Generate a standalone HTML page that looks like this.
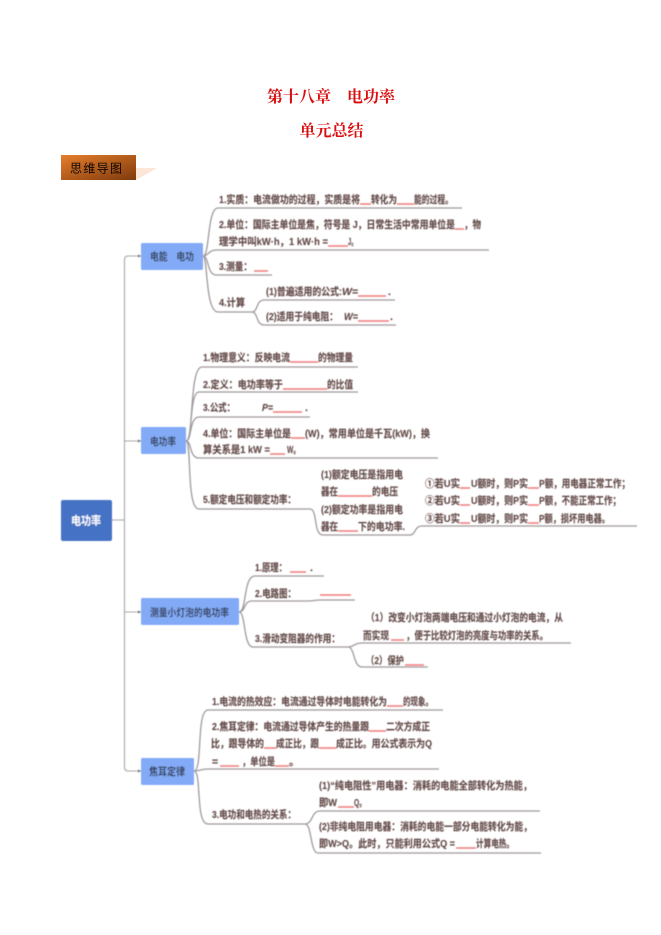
<!DOCTYPE html>
<html lang="zh"><head><meta charset="utf-8"><title>第十八章 电功率</title>
<style>
html,body{margin:0;padding:0;background:#fff;width:661px;height:935px;overflow:hidden}
svg{display:block}
text{font-family:"Liberation Sans","Noto Sans CJK SC",sans-serif}
.t text{font-size:10.500px;font-weight:700;fill:#5a4442;stroke:#8a6f6c;stroke-width:.2}
.c text{font-size:10.500px;font-weight:700;fill:#34415c;text-anchor:start}
.h{font-family:"Liberation Serif","Noto Serif CJK SC",serif;font-size:16px;font-weight:700;fill:#d80f0f;text-anchor:middle}
</style></head><body>
<svg width="661" height="935" viewBox="0 0 661 935" xmlns="http://www.w3.org/2000/svg">
<defs>
<linearGradient id="g" x1="0" y1="0" x2="1" y2="1"><stop offset="0" stop-color="#e67e2c"/><stop offset="1" stop-color="#7e3a0c"/></linearGradient>
<filter id="b" x="-5%" y="-5%" width="110%" height="110%"><feGaussianBlur stdDeviation=".42"/></filter>
</defs>
<text class="h" x="331" y="102" xml:space="preserve">第十八章　电功率</text>
<text class="h" x="331.500" y="136">单元总结</text>
<rect x="61" y="155" width="75" height="25" fill="url(#g)"/>
<path d="M136 168H157L136 180Z" fill="#fbe6d8"/>
<text x="70" y="172.500" font-size="12" fill="#0d0603" textLength="52" lengthAdjust="spacing">思维导图</text>
<g filter="url(#b)">
<g fill="none" stroke="#a9a4a6" stroke-width="1.100">
<path d="M141 256H128Q124.500 256 124.500 260V767Q124.500 771 128 771H141M112 520H124.500M124.500 441H141M124.500 612H141"/>
</g>
<path d="M141 256l-3-1.600v3.200ZM141 441l-3-1.600v3.200ZM141 612l-3-1.600v3.200ZM141 771l-3-1.600v3.200Z" fill="#777"/>
<g fill="none" stroke="#a09a9c" stroke-width="1.300">
<path d="M203 256C210 256 207 208 218 208H462M203 256C208 256 209 250 216 250H489M203 256C209 256 207 275 216 275H272M203 256C208 256 205 312 218 312H252C258 312 256 300 264 300H395M252 312C258 312 256 325 264 325H396"/>
<path d="M186 441C194 441 189 367 202 367H358M186 441C193 441 189 392 199 392H358M186 441C192 441 189 417 199 417H310M186 441C192 441 189 458 199 458H438M186 441C192 441 186 509 199 509H310C318 509 313 535 323 535H410C416 535 414 526 422 526H637"/>
<path d="M239 612C247 612 243 576 255 576H324M239 612C246 612 243 601 252 601H308C314 601 314 600 320 600H355M239 612C246 612 243 647 253 647H348C354 647 354 643 362 643H571M348 647C355 647 353 667 362 667H428"/>
<path d="M194 771C203 771 196 710 208 710H443M194 771C200 771 201 769 208 769H439M194 771C202 771 195 824 208 824H305C313 824 311 811 320 811H540M305 824C312 824 310 853 318 853H541"/>
</g>
<g fill="#4472c4"><rect x="61" y="500" width="51" height="41" rx="2"/></g>
<g fill="#83aaf6">
<rect x="141" y="243" width="62" height="27" rx="1.500"/>
<rect x="141" y="427" width="45" height="27" rx="1.500"/>
<rect x="141" y="598" width="98" height="27" rx="1.500"/>
<rect x="141" y="758" width="53" height="27" rx="1.500"/>
</g>
<text x="71" y="524.500" font-size="11.500" font-weight="700" fill="#fff" textLength="30" lengthAdjust="spacingAndGlyphs">电功率</text>
<g class="c">
<text x="150" y="260" textLength="44" lengthAdjust="spacingAndGlyphs" xml:space="preserve">电能　电功</text>
<text x="150" y="445" textLength="26" lengthAdjust="spacingAndGlyphs">电功率</text>
<text x="150" y="616" textLength="79" lengthAdjust="spacingAndGlyphs">测量小灯泡的电功率</text>
<text x="149" y="775" textLength="36" lengthAdjust="spacingAndGlyphs">焦耳定律</text>
</g>
<g fill="none" stroke="#f07c7a" stroke-width="1.400" transform="translate(0 5)">
<path d="M360 199H371M397 199H414M455 224H464M328 241H348M254 266H268M358 291H386M358 316H389"/>
<path d="M290 357H318M283 384H327M273 407H302M291 433H305M270 449H285M338 491H372M338 526H358M460 483H470M528 483H539M460 500H470M528 500H539M460 518H470M528 518H539"/>
<path d="M290 567H306M320 590H351M391 635H404M405 660H424"/>
<path d="M387 701H403M369 726H386M264 743H276M319 743H336M220 761H239M275 761H289M338 802H354M456 843H476"/>
</g>
<g class="t" transform="translate(0 3.800)">
<text x="219" y="199" textLength="141" lengthAdjust="spacingAndGlyphs">1.实质：电流做功的过程，实质是将</text>
<text x="371" y="199" textLength="26" lengthAdjust="spacingAndGlyphs">转化为</text>
<text x="414" y="199" textLength="39" lengthAdjust="spacingAndGlyphs">能的过程。</text>
<text x="219" y="224" textLength="236" lengthAdjust="spacingAndGlyphs">2.单位：国际主单位是焦，符号是 J，日常生活中常用单位是</text>
<text x="464" y="224" textLength="17" lengthAdjust="spacingAndGlyphs">，物</text>
<text x="219" y="241" textLength="109" lengthAdjust="spacingAndGlyphs">理学中叫kW·h，1 kW·h =</text>
<text x="348" y="241" textLength="9" lengthAdjust="spacingAndGlyphs">J。</text>
<text x="219" y="266" textLength="33" lengthAdjust="spacingAndGlyphs">3.测量：</text>
<text x="219" y="302" textLength="26" lengthAdjust="spacingAndGlyphs">4.计算</text>
<text x="266" y="291" textLength="76" lengthAdjust="spacingAndGlyphs">(1)普遍适用的公式:</text>
<text x="342" y="291" font-style="italic" textLength="16" lengthAdjust="spacingAndGlyphs">W=</text>
<text x="388" y="291">.</text>
<text x="266" y="316" textLength="72" lengthAdjust="spacingAndGlyphs">(2)适用于纯电阻：</text>
<text x="344" y="316" font-style="italic" textLength="14" lengthAdjust="spacingAndGlyphs">W=</text>
<text x="390" y="316">.</text>

<text x="203" y="357" textLength="87" lengthAdjust="spacingAndGlyphs">1.物理意义：反映电流</text>
<text x="318" y="357" textLength="35" lengthAdjust="spacingAndGlyphs">的物理量</text>
<text x="203" y="384" textLength="80" lengthAdjust="spacingAndGlyphs">2.定义：电功率等于</text>
<text x="327" y="384" textLength="26" lengthAdjust="spacingAndGlyphs">的比值</text>
<text x="203" y="407" textLength="32" lengthAdjust="spacingAndGlyphs">3.公式：</text>
<text x="262" y="407" font-style="italic" textLength="11" lengthAdjust="spacingAndGlyphs">P=</text>
<text x="305" y="407">.</text>
<text x="203" y="433" textLength="88" lengthAdjust="spacingAndGlyphs">4.单位：国际主单位是</text>
<text x="305" y="433" textLength="125" lengthAdjust="spacingAndGlyphs">(W)，常用单位是千瓦(kW)，换</text>
<text x="203" y="449" textLength="67" lengthAdjust="spacingAndGlyphs">算关系是1 kW =</text>
<text x="287" y="449" textLength="13" lengthAdjust="spacingAndGlyphs">W。</text>
<text x="203" y="499" textLength="93" lengthAdjust="spacingAndGlyphs">5.额定电压和额定功率：</text>
<text x="321" y="474" textLength="82" lengthAdjust="spacingAndGlyphs">(1)额定电压是指用电</text>
<text x="321" y="491" textLength="17" lengthAdjust="spacingAndGlyphs">器在</text>
<text x="372" y="491" textLength="26" lengthAdjust="spacingAndGlyphs">的电压</text>
<text x="321" y="509" textLength="82" lengthAdjust="spacingAndGlyphs">(2)额定功率是指用电</text>
<text x="321" y="526" textLength="17" lengthAdjust="spacingAndGlyphs">器在</text>
<text x="358" y="526" textLength="47" lengthAdjust="spacingAndGlyphs">下的电功率.</text>
<text x="425" y="483" textLength="35" lengthAdjust="spacingAndGlyphs">①若U实</text>
<text x="471" y="483" textLength="57" lengthAdjust="spacingAndGlyphs">U额时，则P实</text>
<text x="539" y="483" textLength="91" lengthAdjust="spacingAndGlyphs">P额，用电器正常工作；</text>
<text x="425" y="500" textLength="35" lengthAdjust="spacingAndGlyphs">②若U实</text>
<text x="471" y="500" textLength="57" lengthAdjust="spacingAndGlyphs">U额时，则P实</text>
<text x="539" y="500" textLength="82" lengthAdjust="spacingAndGlyphs">P额，不能正常工作；</text>
<text x="425" y="518" textLength="35" lengthAdjust="spacingAndGlyphs">③若U实</text>
<text x="471" y="518" textLength="57" lengthAdjust="spacingAndGlyphs">U额时，则P实</text>
<text x="539" y="518" textLength="71" lengthAdjust="spacingAndGlyphs">P额，损坏用电器。</text>

<text x="255" y="567" textLength="32" lengthAdjust="spacingAndGlyphs">1.原理：</text>
<text x="310" y="567">.</text>
<text x="255" y="593" textLength="41" lengthAdjust="spacingAndGlyphs">2.电路图：</text>
<text x="255" y="638" textLength="85" lengthAdjust="spacingAndGlyphs">3.滑动变阻器的作用：</text>
<text x="366" y="617" textLength="197" lengthAdjust="spacingAndGlyphs">（1）改变小灯泡两端电压和通过小灯泡的电流，从</text>
<text x="363" y="635" textLength="26" lengthAdjust="spacingAndGlyphs">而实现</text>
<text x="406" y="635" textLength="142" lengthAdjust="spacingAndGlyphs">，便于比较灯泡的亮度与功率的关系。</text>
<text x="366" y="660" textLength="38" lengthAdjust="spacingAndGlyphs">（2）保护</text>

<text x="212" y="701" textLength="175" lengthAdjust="spacingAndGlyphs">1.电流的热效应：电流通过导体时电能转化为</text>
<text x="403" y="701" textLength="30" lengthAdjust="spacingAndGlyphs">的现象。</text>
<text x="212" y="726" textLength="157" lengthAdjust="spacingAndGlyphs">2.焦耳定律：电流通过导体产生的热量跟</text>
<text x="386" y="726" textLength="44" lengthAdjust="spacingAndGlyphs">二次方成正</text>
<text x="211" y="743" textLength="53" lengthAdjust="spacingAndGlyphs">比，跟导体的</text>
<text x="276" y="743" textLength="43" lengthAdjust="spacingAndGlyphs">成正比，跟</text>
<text x="336" y="743" textLength="96" lengthAdjust="spacingAndGlyphs">成正比。用公式表示为Q</text>
<text x="212" y="761">=</text>
<text x="242" y="761" textLength="33" lengthAdjust="spacingAndGlyphs">，单位是</text>
<text x="289" y="761">。</text>
<text x="212" y="814" textLength="84" lengthAdjust="spacingAndGlyphs">3.电功和电热的关系：</text>
<text x="319" y="785" textLength="213" lengthAdjust="spacingAndGlyphs">(1)“纯电阻性”用电器：消耗的电能全部转化为热能，</text>
<text x="319" y="802" textLength="18" lengthAdjust="spacingAndGlyphs">即W</text>
<text x="354" y="802" textLength="12" lengthAdjust="spacingAndGlyphs">Q。</text>
<text x="319" y="826" textLength="213" lengthAdjust="spacingAndGlyphs">(2)非纯电阻用电器：消耗的电能一部分电能转化为能，</text>
<text x="319" y="843" textLength="136" lengthAdjust="spacingAndGlyphs">即W&gt;Q。此时，只能利用公式Q =</text>
<text x="476" y="843" textLength="38" lengthAdjust="spacingAndGlyphs">计算电热。</text>
</g>
</g>
</svg>
</body></html>
